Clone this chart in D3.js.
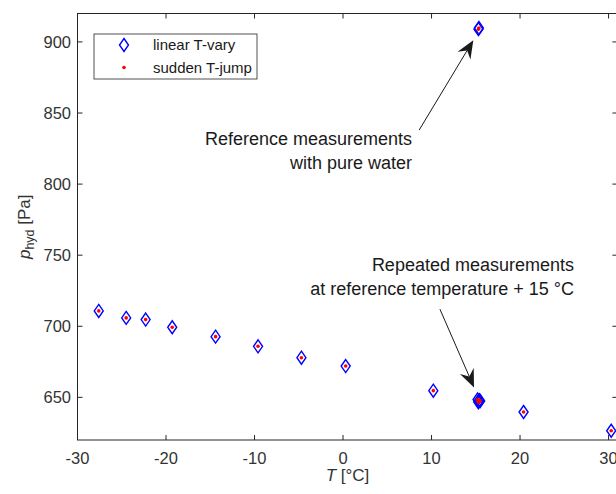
<!DOCTYPE html>
<html>
<head>
<meta charset="utf-8">
<script src="https://cdn.jsdelivr.net/npm/d3@7"></script>
<style>
  body { margin: 0; background: #fff; }
  svg { display: block; font-family: "Liberation Sans", Arial, sans-serif; }
</style>
</head>
<body>
<svg id="chart" width="616" height="494"></svg>
<script>
// measured temperatures [°C] and hydrostatic pressure [Pa]
const tempC = [-27.6, -24.5, -22.3, -19.3, -14.4, -9.6, -4.7, 0.3, 10.2,
  15.2, 15.3, 15.4, 15.3, 15.5, 20.4, 30.3, 15.3, 15.35];
const pHyd = [710.8, 705.9, 704.7, 699.3, 692.7, 685.9, 677.9, 672.0, 654.7,
  648.5, 647.0, 648.0, 646.5, 647.5, 639.7, 626.5, 909.0, 909.8];

const xTicks = [-30, -20, -10, 0, 10, 20, 30];
const yTicks = [650, 700, 750, 800, 850, 900];

const legendLabels = ["linear T-vary", "sudden T-jump"];

// annotations: text lines + arrow start/tip in data units
const notes = [
  { lines: ["Reference measurements", "with pure water"], tx: 412, ty: 145,
    from: [8.6, 838], to: [14.72, 901.2] },
  { lines: ["Repeated measurements", "at reference temperature + 15 °C"], tx: 574, ty: 271,
    from: [10.95, 712], to: [14.8, 657] }
];

(function renderChart() {
  const svg = d3.select("#chart");
  const axisCol = "#262626";
  const left = 77.5, top = 13.5, bottom = 440, right = 617.4;

  const x = d3.scaleLinear().domain([-30, 31]).range([left, right]);
  const y = d3.scaleLinear().domain([620, 920]).range([bottom, top]);

  const g = svg.append("g");

  // box
  g.append("rect")
    .attr("x", left).attr("y", top)
    .attr("width", right - left).attr("height", bottom - top)
    .attr("fill", "none").attr("stroke", axisCol).attr("stroke-width", 1);

  const tl = 5;
  // x ticks (bottom and top)
  xTicks.forEach(t => {
    g.append("line").attr("x1", x(t)).attr("x2", x(t)).attr("y1", bottom).attr("y2", bottom - tl)
      .attr("stroke", axisCol);
    g.append("line").attr("x1", x(t)).attr("x2", x(t)).attr("y1", top).attr("y2", top + tl)
      .attr("stroke", axisCol);
    g.append("text").attr("x", x(t)).attr("y", 464)
      .attr("text-anchor", "middle").attr("font-size", 16.5).attr("fill", "#333")
      .text(t);
  });
  // y ticks (left and right)
  yTicks.forEach(t => {
    g.append("line").attr("x1", left).attr("x2", left + tl).attr("y1", y(t)).attr("y2", y(t))
      .attr("stroke", axisCol);
    g.append("line").attr("x1", right).attr("x2", right - tl).attr("y1", y(t)).attr("y2", y(t))
      .attr("stroke", axisCol);
    g.append("text").attr("x", 71).attr("y", y(t)).attr("dy", "0.36em")
      .attr("text-anchor", "end").attr("font-size", 16.5).attr("fill", "#333")
      .text(t);
  });

  // axis labels
  const xl = g.append("text").attr("x", (left + right) / 2).attr("y", 481)
    .attr("text-anchor", "middle").attr("font-size", 17).attr("fill", "#333");
  xl.append("tspan").attr("font-style", "italic").text("T");
  xl.append("tspan").text(" [°C]");

  const yl = g.append("text")
    .attr("transform", `translate(30,${(top + bottom) / 2}) rotate(-90)`)
    .attr("text-anchor", "middle").attr("font-size", 17).attr("fill", "#333");
  yl.append("tspan").attr("font-style", "italic").text("p");
  yl.append("tspan").attr("font-size", 12.5).attr("dy", 4).text("hyd");
  yl.append("tspan").attr("dy", -4).text(" [Pa]");

  // markers
  const pts = tempC.map((t, i) => ({ t, p: pHyd[i] }));
  const diamond = (cx, cy) => `M${cx},${cy - 6.5}L${cx + 4.5},${cy}L${cx},${cy + 6.5}L${cx - 4.5},${cy}Z`;

  g.selectAll("path.dia").data(pts).enter().append("path")
    .attr("class", "dia")
    .attr("d", d => diamond(x(d.t), y(d.p)))
    .attr("fill", "none").attr("stroke", "#0000ff").attr("stroke-width", 1.4);

  g.selectAll("circle.dot").data(pts).enter().append("circle")
    .attr("class", "dot")
    .attr("cx", d => x(d.t)).attr("cy", d => y(d.p)).attr("r", 1.8)
    .attr("fill", "#ff0000");

  // annotations
  notes.forEach(n => {
    n.lines.forEach((s, i) => {
      g.append("text").attr("x", n.tx).attr("y", n.ty + i * 24)
        .attr("text-anchor", "end").attr("font-size", 18).attr("fill", "#1a1a1a")
        .text(s);
    });
    const x0 = x(n.from[0]), y0 = y(n.from[1]);
    const x1 = x(n.to[0]), y1 = y(n.to[1]);
    const ang = Math.atan2(y1 - y0, x1 - x0);
    const hl = 18, hw = 7.5, notch = 12;
    const ux = Math.cos(ang), uy = Math.sin(ang);
    const px = -uy, py = ux;
    const bx = x1 - ux * hl, by = y1 - uy * hl;
    const nx = x1 - ux * notch, ny = y1 - uy * notch;
    g.append("line").attr("x1", x0).attr("y1", y0).attr("x2", nx).attr("y2", ny)
      .attr("stroke", "#1a1a1a").attr("stroke-width", 1);
    g.append("path")
      .attr("d", `M${x1},${y1}L${bx + px * hw},${by + py * hw}L${nx},${ny}L${bx - px * hw},${by - py * hw}Z`)
      .attr("fill", "#1a1a1a");
  });

  // legend
  const lg = g.append("g");
  lg.append("rect").attr("x", 94).attr("y", 34).attr("width", 163).attr("height", 45)
    .attr("fill", "#fff").attr("stroke", axisCol).attr("stroke-width", 0.8);
  lg.append("path").attr("d", diamond(124, 45))
    .attr("fill", "none").attr("stroke", "#0000ff").attr("stroke-width", 1.4);
  lg.append("circle").attr("cx", 124).attr("cy", 67.5).attr("r", 1.8).attr("fill", "#ff0000");
  legendLabels.forEach((s, i) => {
    lg.append("text").attr("x", 153).attr("y", 45 + i * 22.5).attr("dy", "0.36em")
      .attr("font-size", 15).attr("fill", "#1a1a1a").text(s);
  });
})();
</script>
</body>
</html>
